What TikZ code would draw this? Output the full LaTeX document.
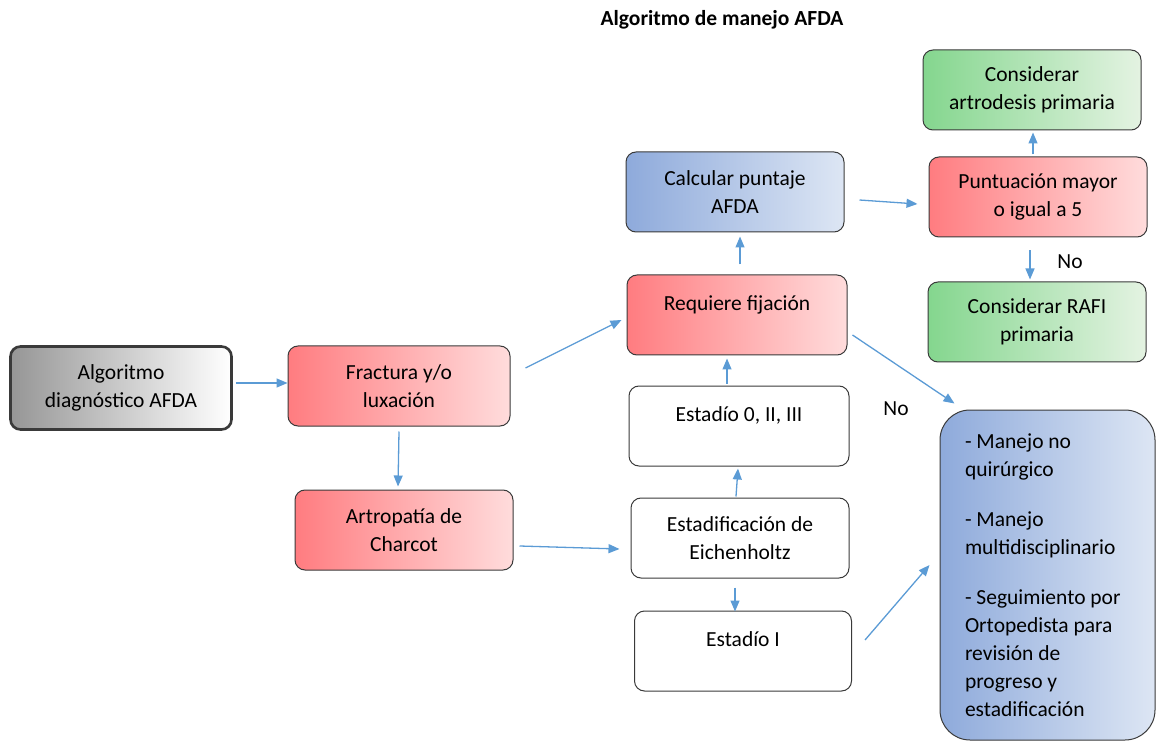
\documentclass[tikz,border=0pt]{standalone}
\usepackage{fontspec}
\setmainfont{Carlito}
\usetikzlibrary{arrows.meta}

\definecolor{flecha}{HTML}{5B9BD5}
\definecolor{rojoA}{HTML}{FF7C80}
\definecolor{rojoB}{HTML}{FFDCDC}
\definecolor{azulA}{HTML}{8EAADB}
\definecolor{azulB}{HTML}{DDE6F4}
\definecolor{verdeA}{HTML}{84D68E}
\definecolor{verdeB}{HTML}{E4F3E2}
\definecolor{grisA}{HTML}{969696}
\definecolor{borde}{HTML}{3A3A3A}

\begin{document}
\begin{tikzpicture}[x=1pt,y=-1pt,
  every node/.style={font=\fontsize{21.5}{28}\selectfont, inner sep=0pt},
  caja/.style={draw=borde, line width=1pt, rounded corners=10pt, align=center,
    minimum width=218pt, minimum height=80pt},
  rojo/.style={caja, left color=rojoA, right color=rojoB},
  azul/.style={caja, left color=azulA, right color=azulB},
  verde/.style={caja, left color=verdeA, right color=verdeB},
  blanca/.style={caja, fill=white},
  arriba/.style={text height=13pt, text depth=22pt},
  flechita/.style={draw=flecha, line width=1.3pt, -{Triangle[length=11pt,width=9pt]}}]
  \useasboundingbox (0,0) rectangle (1157,743);
  \node[font=\fontsize{21.5}{28}\selectfont\bfseries] (titulo) at (722,20) {Algoritmo de manejo AFDA};
  \node[caja, line width=2.6pt, left color=grisA, right color=white, minimum width=221pt, minimum height=83pt] (diag) at (121,388) {Algoritmo\\diagnóstico AFDA};
  \node[rojo, minimum width=222pt] (fract) at (399,386) {Fractura y/o\\luxación};
  \node[rojo] (charcot) at (404,530) {Artropatía de\\Charcot};
  \node[rojo, arriba, minimum width=220pt] (fij) at (737,315) {Requiere fijación};
  \node[azul] (calc) at (735,192) {Calcular puntaje\\AFDA};
  \node[blanca, arriba, minimum width=220pt] (est0) at (739,426) {Estadío 0, II, III};
  \node[blanca] (eich) at (740,538) {Estadificación de\\Eichenholtz};
  \node[blanca, arriba, minimum width=217pt] (est1) at (743,651) {Estadío I};
  \node[rojo] (punt) at (1038,197) {Puntuación mayor\\o igual a 5};
  \node[verde] (artro) at (1032,90) {Considerar\\artrodesis primaria};
  \node[verde] (rafi) at (1037,322) {Considerar RAFI\\primaria};
  \node[caja, rounded corners=30pt, left color=azulA, right color=azulB, align=flush left,
    minimum width=215pt, minimum height=330pt, text width=165pt, inner xsep=25pt] (manejo) at (1047.5,575)
    {- Manejo no\\quirúrgico\\[22pt]- Manejo\\multidisciplinario\\[22pt]- Seguimiento por\\Ortopedista para\\revisión de\\progreso y\\estadificación};
  \node (no1) at (1070,262) {No};
  \node (no2) at (896,409) {No};
  \draw[flechita] ([xshift=3pt,yshift=5pt]diag.east) -- ([yshift=3pt]fract.west);
  \draw[flechita] ([xshift=15pt,yshift=18pt]fract.east) -- ([xshift=-5pt,yshift=-5pt]fij.west);
  \draw[flechita] ([yshift=-5pt]fract.south) -- ([xshift=-6pt,yshift=3pt]charcot.north);
  \draw[flechita] ([xshift=6pt,yshift=-16pt]charcot.east) -- ([xshift=-11pt,yshift=-11pt]eich.west);
  \draw[flechita] ([xshift=-4pt,yshift=1pt]eich.north) -- ([xshift=-1pt,yshift=-2pt]est0.south);
  \draw[flechita] ([xshift=-12pt,yshift=2pt]est0.north) -- ([xshift=-10pt,yshift=-3pt]fij.south);
  \draw[flechita] ([xshift=3pt,yshift=10pt]fij.north) -- ([xshift=5pt,yshift=-4pt]calc.south);
  \draw[flechita] ([xshift=15pt,yshift=-8pt]calc.east) -- ([xshift=-11pt,yshift=-7pt]punt.west);
  \draw[flechita] ([xshift=-5pt,yshift=2pt]punt.north) -- ([xshift=1pt,yshift=-2pt]artro.south);
  \draw[flechita] ([xshift=-8pt,yshift=-13pt]punt.south) -- ([xshift=-7pt,yshift=2pt]rafi.north);
  \draw[flechita] ([xshift=5pt,yshift=-20pt]fij.east) -- ([xshift=15pt,yshift=6pt]manejo.north west);
  \draw[flechita] ([xshift=-5pt,yshift=-9pt]eich.south) -- ([xshift=-8pt,yshift=-1pt]est1.north);
  \draw[flechita] ([xshift=13pt,yshift=11pt]est1.east) -- ([xshift=-10pt,yshift=10pt]manejo.west);
\end{tikzpicture}
\end{document}
